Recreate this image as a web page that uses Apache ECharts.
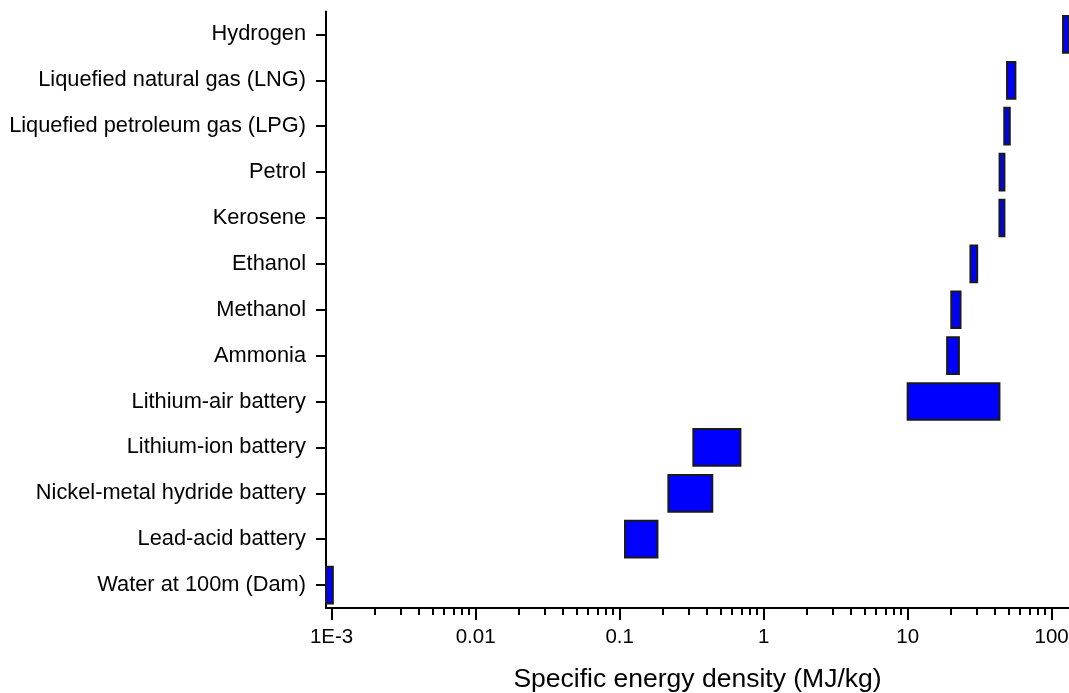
<!DOCTYPE html>
<html>
<head>
<meta charset="utf-8">
<script src="https://cdn.jsdelivr.net/npm/echarts@6/dist/echarts.min.js"></script>
<style>
html,body{margin:0;padding:0;background:#fff;}
#chart{width:1069px;height:693px;}
</style>
</head>
<body>
<div id="chart"></div>
<script>
// Categories, top to bottom
var categories = [
  'Hydrogen',
  'Liquefied natural gas (LNG)',
  'Liquefied petroleum gas (LPG)',
  'Petrol',
  'Kerosene',
  'Ethanol',
  'Methanol',
  'Ammonia',
  'Lithium-air battery',
  'Lithium-ion battery',
  'Nickel-metal hydride battery',
  'Lead-acid battery',
  'Water at 100m (Dam)'
];
// Lower and upper specific energy density (MJ/kg)
var lowValues  = [120, 49, 46.9, 43.5, 43.4, 27.3, 20.1, 18.8, 10, 0.325, 0.218, 0.109, 0.0009];
var highValues = [142, 56, 51.2, 47, 47, 30.4, 23.3, 22.7, 43.4, 0.69, 0.44, 0.183, 0.00102];

var majorTicks = [0.001, 0.01, 0.1, 1, 10, 100];
var majorTickLabels = ['1E-3', '0.01', '0.1', '1', '10', '100'];
var minorMultipliers = [2, 3, 4, 5, 6, 7, 8, 9];
var minorTicks = [];
majorTicks.forEach(function (d) {
  minorMultipliers.forEach(function (m) { minorTicks.push(+(d * m).toPrecision(3)); });
});

var xMin = 0.000914;
var xMax = 132;

var rangeData = categories.map(function (c, i) { return [lowValues[i], highValues[i], i]; });

var chart = echarts.init(document.getElementById('chart'), null, {renderer: 'canvas'});
var font = 'Arial, "Liberation Sans", sans-serif';

chart.setOption({
  animation: false,
  backgroundColor: '#ffffff',
  grid: {left: 326, right: 0, top: 11.5, bottom: 85, containLabel: false, outerBoundsMode: 'none'},
  xAxis: [{
    type: 'log',
    min: xMin,
    max: xMax,
    logBase: 10,
    position: 'bottom',
    name: 'Specific energy density (MJ/kg)',
    nameLocation: 'middle',
    nameGap: 58,
    nameTextStyle: {fontFamily: font, fontSize: 26.5, color: '#000'},
    axisLine: {show: true, onZero: false, lineStyle: {color: '#000', width: 2}},
    axisTick: {show: true, inside: false, length: 12, customValues: majorTicks, lineStyle: {color: '#000', width: 2}},
    axisLabel: {
      show: true, margin: 19, customValues: majorTicks,
      fontFamily: font, fontSize: 20.5, color: '#000',
      formatter: function (v) {
        var idx = Math.round(Math.log10(v)) + 3;
        return majorTickLabels[idx] !== undefined ? majorTickLabels[idx] : '';
      }
    },
    splitLine: {show: false}
  }, {
    type: 'log',
    min: xMin,
    max: xMax,
    logBase: 10,
    position: 'bottom',
    axisLine: {show: false},
    axisTick: {show: true, inside: false, length: 7, customValues: minorTicks, lineStyle: {color: '#000', width: 2}},
    axisLabel: {show: false},
    splitLine: {show: false}
  }],
  yAxis: {
    type: 'category',
    data: categories,
    inverse: true,
    axisLine: {show: true, lineStyle: {color: '#000', width: 2}},
    axisTick: {show: true, alignWithLabel: true, length: 10, lineStyle: {color: '#000', width: 2}},
    axisLabel: {margin: 20, fontFamily: font, fontSize: 21.8, color: '#000'},
    splitLine: {show: false}
  },
  series: [{
    type: 'custom',
    xAxisIndex: 0,
    yAxisIndex: 0,
    data: rangeData,
    encode: {x: [0, 1], y: 2},
    renderItem: function (params, api) {
      var cat = api.value(2);
      var p0 = api.coord([api.value(0), cat]);
      var p1 = api.coord([api.value(1), cat]);
      var h = api.size([0, 1])[1] * 0.8;
      var shape = echarts.graphic.clipRectByRect({
        x: p0[0], y: p0[1] - h / 2, width: p1[0] - p0[0], height: h
      }, {
        x: params.coordSys.x, y: params.coordSys.y,
        width: params.coordSys.width, height: params.coordSys.height
      });
      return shape && {
        type: 'rect',
        shape: shape,
        style: {fill: '#0000ff', stroke: '#1a1a1a', lineWidth: 2}
      };
    }
  }]
});
</script>
</body>
</html>
